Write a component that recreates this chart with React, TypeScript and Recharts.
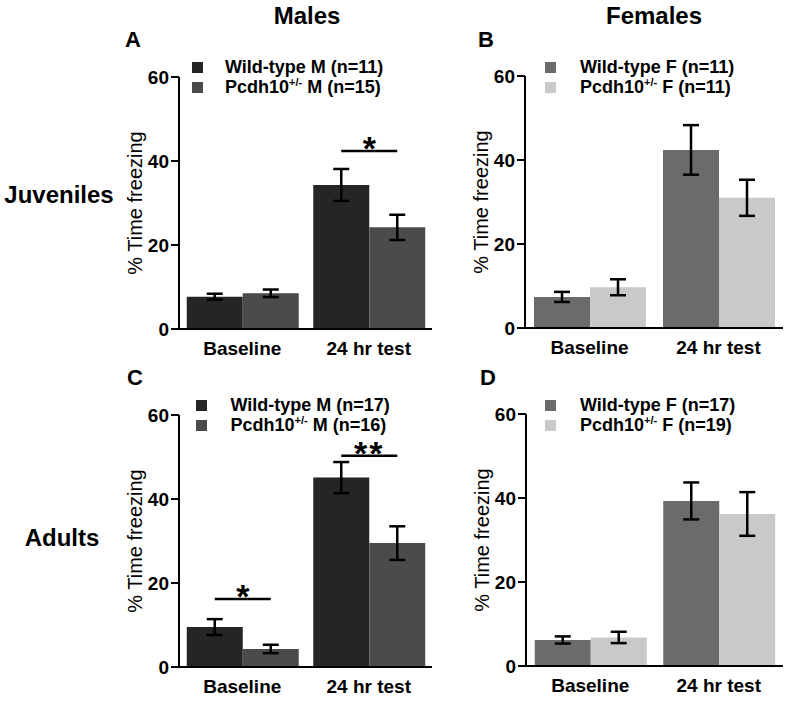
import React from 'react';
import { BarChart, Bar, XAxis, YAxis, ErrorBar } from 'recharts';

const FONT = '"Liberation Sans", Arial, Helvetica, sans-serif';

const categories = ['Baseline', '24 hr test'];
const yTicks = [0, 20, 40, 60];

// A - juvenile males
const juvMaleNames = ['Wild-type M (n=11)', 'Pcdh10+/- M (n=15)'];
const juvMaleWt = [7.7, 34.3];
const juvMaleWtErr = [0.7, 3.8];
const juvMaleHet = [8.5, 24.2];
const juvMaleHetErr = [0.9, 3.0];
const juvMaleSig = [null, 42.4];
const juvMaleStars = ['', '*'];

// B - juvenile females
const juvFemNames = ['Wild-type F (n=11)', 'Pcdh10+/- F (n=11)'];
const juvFemWt = [7.4, 42.4];
const juvFemWtErr = [1.2, 5.9];
const juvFemHet = [9.7, 31.0];
const juvFemHetErr = [1.9, 4.3];

// C - adult males
const adMaleNames = ['Wild-type M (n=17)', 'Pcdh10+/- M (n=16)'];
const adMaleWt = [9.5, 45.1];
const adMaleWtErr = [1.9, 3.7];
const adMaleHet = [4.3, 29.5];
const adMaleHetErr = [1.0, 4.0];
const adMaleSig = [16.2, 50.3];
const adMaleStars = ['*', '**'];

// D - adult females
const adFemNames = ['Wild-type F (n=17)', 'Pcdh10+/- F (n=19)'];
const adFemWt = [6.2, 39.3];
const adFemWtErr = [0.85, 4.4];
const adFemHet = [6.8, 36.2];
const adFemHetErr = [1.35, 5.2];

const MALE_COLORS = ['#252525', '#4b4b4b'];
const FEMALE_COLORS = ['#6b6b6b', '#c9c9c9'];
const Y_W = 60;
const BAR_W = 55.5;

const panels = [
  { id: 'A', box: { x: 100, y: 30, w: 345, h: 345 }, plot: { l: 179, r: 432, t: 77, b: 329 },
    names: juvMaleNames, wt: juvMaleWt, wtErr: juvMaleWtErr, het: juvMaleHet, hetErr: juvMaleHetErr,
    sig: juvMaleSig, stars: juvMaleStars, colors: MALE_COLORS, legend: { sq: 191.5, tx: 225, top: 58.4 } },
  { id: 'B', box: { x: 446, y: 30, w: 343, h: 345 }, plot: { l: 525, r: 783, t: 76, b: 328 },
    names: juvFemNames, wt: juvFemWt, wtErr: juvFemWtErr, het: juvFemHet, hetErr: juvFemHetErr,
    sig: [null, null], stars: ['', ''], colors: FEMALE_COLORS, legend: { sq: 545, tx: 580, top: 58.4 } },
  { id: 'C', box: { x: 100, y: 368, w: 345, h: 333 }, plot: { l: 179, r: 432, t: 415, b: 667 },
    names: adMaleNames, wt: adMaleWt, wtErr: adMaleWtErr, het: adMaleHet, hetErr: adMaleHetErr,
    sig: adMaleSig, stars: adMaleStars, colors: MALE_COLORS, legend: { sq: 196, tx: 230.5, top: 396.4 } },
  { id: 'D', box: { x: 446, y: 368, w: 343, h: 333 }, plot: { l: 526, r: 783, t: 414, b: 666 },
    names: adFemNames, wt: adFemWt, wtErr: adFemWtErr, het: adFemHet, hetErr: adFemHetErr,
    sig: [null, null], stars: ['', ''], colors: FEMALE_COLORS, legend: { sq: 545, tx: 580, top: 396.4 } },
];

// significance bar drawn from the WT bar centre to the het bar centre
const sigLabel = (sig: (number | null)[], stars: string[], vals: number[]) => (props: any) => {
  const vb = props.viewBox || props;
  let idx = props.index;
  if (idx == null) idx = vals.indexOf(Number(props.value));
  const s = sig[idx];
  if (s == null || !vb) return null;
  const v = vals[idx];
  const base = vb.y + vb.height;
  const yy = base - (s * vb.height) / v;
  const x1 = vb.x + vb.width / 2;
  const x2 = x1 + vb.width;
  return (
    <g key={`sig-${idx}`}>
      <line x1={x1} x2={x2} y1={yy} y2={yy} stroke="#000" strokeWidth={2.5} />
      <text x={(x1 + x2) / 2} y={yy + 9} textAnchor="middle" fontSize={34} fontWeight={700} fontFamily={FONT}
        fill="#000" letterSpacing={stars[idx].length > 1 ? 2 : 0}>
        {stars[idx]}
      </text>
    </g>
  );
};

const yLabel = (props: any) => {
  const vb = props.viewBox;
  const x = vb.x + vb.width - 37;
  const y = vb.y + vb.height / 2;
  return (
    <text x={x} y={y} textAnchor="middle" transform={`rotate(-90, ${x}, ${y})`} fontSize={20}
      fontFamily={FONT} fill="#000">% Time freezing</text>
  );
};

function LegendName({ name }: { name: string }) {
  const parts = name.split('+/-');
  if (parts.length < 2) return <>{name}</>;
  return (
    <>
      {parts[0]}
      <span style={{ fontSize: 11, position: 'relative', top: -7 }}>+/-</span>
      {parts[1]}
    </>
  );
}

function Panel({ p }: { p: any }) {
  const data = categories.map((c, i) => ({
    cat: c, wt: p.wt[i], wtErr: p.wtErr[i], het: p.het[i], hetErr: p.hetErr[i],
  }));
  const band = (p.plot.r - p.plot.l) / categories.length;
  const gap = (band - 2 * BAR_W) / 2;
  const axisStyle = { stroke: '#000', strokeWidth: 2 };
  const tickStyle = { fill: '#000', fontSize: 19, fontWeight: 700, fontFamily: FONT };
  return (
    <>
      <div style={{ position: 'absolute', left: p.box.x, top: p.box.y }}>
        <BarChart
          width={p.box.w}
          height={p.box.h}
          data={data}
          barGap={0}
          barCategoryGap={gap}
          margin={{
            top: p.plot.t - p.box.y,
            right: p.box.x + p.box.w - p.plot.r,
            bottom: 0,
            left: p.plot.l - p.box.x - Y_W,
          }}
        >
          <XAxis dataKey="cat" height={p.box.y + p.box.h - p.plot.b} tickLine={false} tickSize={0}
            tickMargin={13} axisLine={axisStyle} tick={tickStyle} interval={0} />
          <YAxis width={Y_W} domain={[0, 60]} ticks={yTicks} allowDataOverflow tickSize={8} tickMargin={2}
            axisLine={axisStyle} tickLine={axisStyle} tick={tickStyle}
            label={{ value: '% Time freezing', content: yLabel }} />
          <Bar dataKey="wt" fill={p.colors[0]} isAnimationActive={false}
            label={sigLabel(p.sig, p.stars, p.wt)}>
            <ErrorBar dataKey="wtErr" width={8} stroke="#000" strokeWidth={2.5} direction="y" isAnimationActive={false} />
          </Bar>
          <Bar dataKey="het" fill={p.colors[1]} isAnimationActive={false}>
            <ErrorBar dataKey="hetErr" width={8} stroke="#000" strokeWidth={2.5} direction="y" isAnimationActive={false} />
          </Bar>
        </BarChart>
      </div>
      {p.names.map((n: string, i: number) => (
        <div key={n}>
          <div style={{
            position: 'absolute', left: p.legend.sq, top: p.legend.top + i * 20 + 4,
            width: 11, height: 11, background: p.colors[i],
          }} />
          <div style={{
            position: 'absolute', left: p.legend.tx, top: p.legend.top + i * 20, height: 20,
            lineHeight: '19.5px', fontSize: 18, fontWeight: 700, whiteSpace: 'nowrap', color: '#000',
          }}>
            <LegendName name={n} />
          </div>
        </div>
      ))}
    </>
  );
}

function Txt({ text, left, cx, capTop, size }: { text: string; left?: number; cx?: number; capTop: number; size: number }) {
  const top = capTop - 0.1305 * size;
  const style: React.CSSProperties = {
    position: 'absolute', top, fontSize: size, lineHeight: `${size}px`, fontWeight: 700,
    whiteSpace: 'nowrap', color: '#000',
  };
  if (cx != null) {
    style.left = cx - 100;
    style.width = 200;
    style.textAlign = 'center';
  } else {
    style.left = left;
  }
  return <div style={style}>{text}</div>;
}

export default function App() {
  return (
    <div style={{
      position: 'absolute', left: 0, top: 0, width: 789, height: 701, background: '#fff',
      fontFamily: FONT, overflow: 'hidden',
    }}>
      <Txt text="Males" cx={307} capTop={7} size={24} />
      <Txt text="Females" cx={654} capTop={7} size={24} />
      <Txt text="Juveniles" cx={59} capTop={186} size={24} />
      <Txt text="Adults" cx={62} capTop={529} size={24} />
      <Txt text="A" left={125} capTop={32} size={22} />
      <Txt text="B" left={478} capTop={32} size={22} />
      <Txt text="C" left={127} capTop={370} size={22} />
      <Txt text="D" left={480} capTop={370} size={22} />
      {panels.map((p) => (
        <Panel key={p.id} p={p} />
      ))}
    </div>
  );
}
